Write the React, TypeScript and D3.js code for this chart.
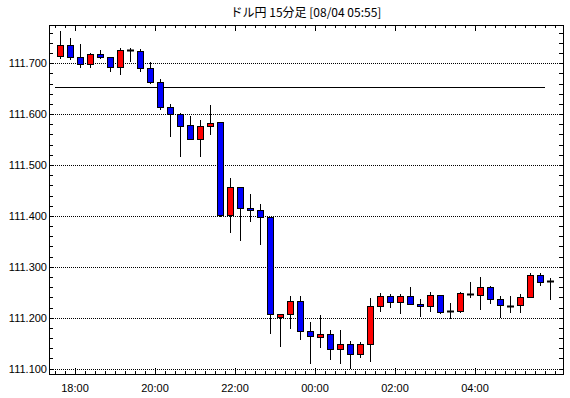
import React from "react";
import * as d3 from "d3";

const title = "ドル円 15分足 [08/04 05:55]";

const times: string[] = [
  "08/03 17:30", "08/03 17:45", "08/03 18:00", "08/03 18:15", "08/03 18:30", "08/03 18:45", "08/03 19:00", "08/03 19:15", "08/03 19:30", "08/03 19:45",
  "08/03 20:00", "08/03 20:15", "08/03 20:30", "08/03 20:45", "08/03 21:00", "08/03 21:15", "08/03 21:30", "08/03 21:45", "08/03 22:00", "08/03 22:15",
  "08/03 22:30", "08/03 22:45", "08/03 23:00", "08/03 23:15", "08/03 23:30", "08/03 23:45", "08/04 00:00", "08/04 00:15", "08/04 00:30", "08/04 00:45",
  "08/04 01:00", "08/04 01:15", "08/04 01:30", "08/04 01:45", "08/04 02:00", "08/04 02:15", "08/04 02:30", "08/04 02:45", "08/04 03:00", "08/04 03:15",
  "08/04 03:30", "08/04 03:45", "08/04 04:00", "08/04 04:15", "08/04 04:30", "08/04 04:45", "08/04 05:00", "08/04 05:15", "08/04 05:30", "08/04 05:45",
];

const open: number[] = [
  111.714, 111.736, 111.712, 111.698, 111.718, 111.712, 111.692, 111.725, 111.724, 111.690,
  111.663, 111.613, 111.600, 111.578, 111.552, 111.577, 111.584, 111.401, 111.456, 111.416,
  111.411, 111.397, 111.201, 111.207, 111.232, 111.174, 111.163, 111.168, 111.138, 111.149,
  111.128, 111.148, 111.223, 111.242, 111.231, 111.242, 111.227, 111.223, 111.244, 111.214,
  111.214, 111.247, 111.244, 111.260, 111.236, 111.224, 111.225, 111.240, 111.284, 111.273,
];
const high: number[] = [
  111.764, 111.749, 111.738, 111.720, 111.726, 111.713, 111.729, 111.729, 111.727, 111.703,
  111.669, 111.620, 111.602, 111.597, 111.588, 111.618, 111.584, 111.474, 111.456, 111.443,
  111.424, 111.397, 111.207, 111.242, 111.242, 111.191, 111.206, 111.176, 111.176, 111.154,
  111.152, 111.238, 111.248, 111.247, 111.247, 111.260, 111.236, 111.250, 111.244, 111.229,
  111.250, 111.270, 111.280, 111.262, 111.242, 111.242, 111.246, 111.287, 111.287, 111.278,
];
const low: number[] = [
  111.711, 111.708, 111.692, 111.692, 111.710, 111.684, 111.678, 111.705, 111.685, 111.662,
  111.610, 111.556, 111.517, 111.552, 111.517, 111.561, 111.400, 111.369, 111.352, 111.391,
  111.344, 111.171, 111.145, 111.179, 111.159, 111.112, 111.143, 111.119, 111.112, 111.101,
  111.122, 111.116, 111.214, 111.222, 111.209, 111.227, 111.204, 111.214, 111.209, 111.199,
  111.212, 111.240, 111.217, 111.229, 111.202, 111.212, 111.212, 111.240, 111.264, 111.236,
];
const close: number[] = [
  111.736, 111.712, 111.698, 111.718, 111.712, 111.692, 111.726, 111.725, 111.690, 111.663,
  111.613, 111.600, 111.577, 111.552, 111.576, 111.583, 111.401, 111.456, 111.415, 111.411,
  111.397, 111.207, 111.207, 111.232, 111.174, 111.164, 111.168, 111.138, 111.149, 111.128,
  111.149, 111.223, 111.242, 111.231, 111.242, 111.227, 111.223, 111.244, 111.212, 111.214,
  111.248, 111.247, 111.260, 111.236, 111.225, 111.224, 111.240, 111.284, 111.271, 111.273,
];

const refLevel = 111.653;
const yGridValues: number[] = [111.1, 111.2, 111.3, 111.4, 111.5, 111.6, 111.7];
const xLabelTimes: string[] = ["08/03 18:00", "08/03 20:00", "08/03 22:00", "08/04 00:00", "08/04 02:00", "08/04 04:00"];
const xDomain: string[] = ["08/03 17:21", "08/04 06:12"];
const yDomain: number[] = [111.0895, 111.775];

const parse = (s: string) => {
  const [md, hm] = s.split(" ");
  const [mo, d] = md.split("/").map(Number);
  const [h, m] = hm.split(":").map(Number);
  return new Date(2020, mo - 1, d, h, m);
};

const W = 570;
const H = 398;
const L = 49, R = 563, T = 25, B = 374;

export default function App() {
  const x = d3.scaleTime().domain(xDomain.map(parse)).range([L, R]);
  const y = d3.scaleLinear().domain(yDomain).range([B, T]);
  const tDates = times.map(parse);
  const step = 15 * 60 * 1000;
  const half = step / 2;

  const fontNum = "'Liberation Sans', Arial, sans-serif";

  // x ticks every 15 min
  const tickDates = d3.timeMinute.every(15)!.range(parse(times[0]), new Date(+tDates[tDates.length - 1] + step + 1));
  const majorSet = new Set(xLabelTimes.map((s) => +parse(s)));
  const yTicks = d3.range(0, 34).map((k) => +(111.1 + k * 0.02).toFixed(2)).filter((v) => v <= yDomain[1]);

  const px = (v: number) => Math.round(v) + 0.5;

  return (
    <svg width={W} height={H} style={{ display: "block", position: "absolute", left: 0, top: 0, background: "#fff" }}>
      <rect x={0} y={0} width={W} height={H} fill="#fff" />
      <text x={(L + R) / 2} y={17} textAnchor="middle" fontSize={12} fontFamily="'Noto Sans CJK JP', sans-serif" fill="#000">
        {title}
      </text>
      {/* grid */}
      {yGridValues.map((v) => (
        <line key={v} x1={L} x2={R} y1={px(y(v))} y2={px(y(v))} stroke="#000" strokeWidth={1} strokeDasharray="1 1" />
      ))}
      {/* y labels */}
      {yGridValues.map((v) => (
        <text key={"l" + v} x={47} y={Math.round(y(v)) + 4} textAnchor="end" fontSize={11} fontFamily={fontNum} fill="#000">
          {v.toFixed(3)}
        </text>
      ))}
      {/* reference line */}
      <line x1={x(tDates[0])} x2={x(tDates[tDates.length - 1])} y1={px(y(refLevel))} y2={px(y(refLevel))} stroke="#000" strokeWidth={1} />
      {/* y ticks */}
      {yTicks.map((v) => (
        <g key={"t" + v}>
          <line x1={L} x2={L + 4} y1={px(y(v))} y2={px(y(v))} stroke="#000" />
          <line x1={R - 4} x2={R} y1={px(y(v))} y2={px(y(v))} stroke="#000" />
        </g>
      ))}
      {/* x ticks */}
      {tickDates.map((d) => {
        const xx = px(x(d));
        const len = majorSet.has(+d) ? 6 : 3;
        return (
          <g key={"x" + +d}>
            <line x1={xx} x2={xx} y1={T} y2={T + len} stroke="#000" />
            <line x1={xx} x2={xx} y1={B} y2={B - len} stroke="#000" />
          </g>
        );
      })}
      {xLabelTimes.map((s) => (
        <text key={s} x={x(parse(s))} y={392} textAnchor="middle" fontSize={11} fontFamily={fontNum} fill="#000">
          {s.split(" ")[1]}
        </text>
      ))}
      {/* candles */}
      {tDates.map((d, i) => {
        const cx = Math.round(x(new Date(+d + half)));
        const o = open[i], c = close[i];
        const yTop = Math.round(y(Math.max(o, c)));
        const yBot = Math.round(y(Math.min(o, c)));
        const color = c > o ? "#ff0000" : "#0000ff";
        return (
          <g key={"c" + i}>
            <line x1={cx + 0.5} x2={cx + 0.5} y1={Math.round(y(high[i]))} y2={Math.round(y(low[i])) + 1} stroke="#000" />
            {yBot - yTop >= 2 ? (
              <rect x={cx - 2.5} y={yTop + 0.5} width={6} height={yBot - yTop} fill={color} stroke="#000" strokeWidth={1} />
            ) : o === c ? (
              <line x1={cx - 3} x2={cx + 4} y1={yTop + 0.5} y2={yTop + 0.5} stroke="#000" strokeWidth={2} />
            ) : (
              <rect x={cx - 2.5} y={yTop - 0.5} width={6} height={2} fill={color} stroke="#000" strokeWidth={1} />
            )}
          </g>
        );
      })}
      {/* frame */}
      <rect x={L + 0.5} y={T + 0.5} width={R - L} height={B - T} fill="none" stroke="#000" strokeWidth={1} />
    </svg>
  );
}
